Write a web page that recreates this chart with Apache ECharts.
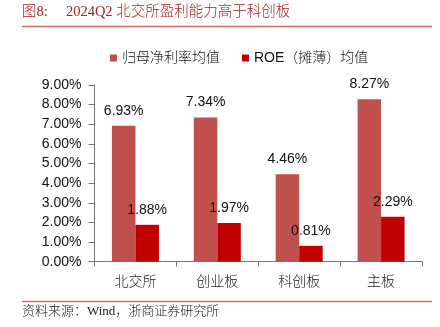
<!DOCTYPE html>
<html><head><meta charset="utf-8">
<script src="https://cdn.jsdelivr.net/npm/echarts@6/dist/echarts.min.js"></script>
<style>html,body{margin:0;padding:0;background:#fff}#c{width:440px;height:327px}</style>
</head><body><div id="c"></div>
<script>
const categories = ['北交所', '创业板', '科创板', '主板'];
const seriesNames = ['归母净利率均值', 'ROE（摊薄）均值'];
const netMargin = [6.93, 7.34, 4.46, 8.27];
const roe = [1.88, 1.97, 0.81, 2.29];
const yTicks = [0, 1, 2, 3, 4, 5, 6, 7, 8, 9];

const chart = echarts.init(document.getElementById('c'), null, {renderer: 'canvas'});
const sans = "'Liberation Sans', 'Noto Sans CJK SC', sans-serif";
const serif = "'Liberation Serif', 'Noto Sans CJK SC', serif";
const labelStyle = {
  show: true, position: 'top', distance: 8,
  formatter: p => p.value.toFixed(2) + '%',
  color: '#111', fontSize: 14, fontFamily: sans
};
chart.setOption({
  animation: false,
  backgroundColor: '#fff',
  graphic: [
    {type: 'text', left: 22, top: 5, style: {text: '图8:     2024Q2 北交所盈利能力高于科创板', fill: '#a32226', font: "300 14.5px " + serif}},
    {type: 'line', shape: {x1: 22, y1: 26.5, x2: 432, y2: 26.5}, style: {stroke: '#d46a6a', lineWidth: 1.5}},
    {type: 'line', shape: {x1: 22, y1: 301.5, x2: 432, y2: 301.5}, style: {stroke: '#d46a6a', lineWidth: 1.5}},
    {type: 'text', left: 22, top: 305, style: {text: '资料来源：Wind，浙商证券研究所', fill: '#222', font: "300 13px " + serif}}
  ],
  legend: {
    top: 46, left: 105,
    itemWidth: 7, itemHeight: 7, itemGap: 22,
    icon: 'rect',
    textStyle: {fontSize: 14, color: '#111', fontFamily: sans, fontWeight: 300},
    data: seriesNames
  },
  grid: {left: 94.5, right: 18, top: 85, bottom: 65.3, containLabel: false},
  xAxis: {
    type: 'category', data: categories,
    axisLine: {lineStyle: {color: '#777'}},
    axisTick: {show: true, length: 5, lineStyle: {color: '#777'}},
    axisLabel: {margin: 14, fontSize: 14, color: '#222', fontFamily: serif, fontWeight: 300}
  },
  yAxis: {
    type: 'value', min: yTicks[0], max: yTicks[yTicks.length - 1], interval: 1,
    axisLine: {show: true, lineStyle: {color: '#777'}},
    axisTick: {show: true, length: 6, inside: false, lineStyle: {color: '#777'}},
    splitLine: {show: false},
    axisLabel: {margin: 13, fontSize: 14, color: '#111', fontFamily: sans, formatter: v => v.toFixed(2) + '%'}
  },
  series: [
    {name: seriesNames[0], type: 'bar', data: netMargin, barWidth: 23.5, barGap: '0%',
     itemStyle: {color: '#C0504D'}, label: labelStyle},
    {name: seriesNames[1], type: 'bar', data: roe, barWidth: 23.5,
     itemStyle: {color: '#C00000'}, label: labelStyle}
  ]
});
</script></body></html>
